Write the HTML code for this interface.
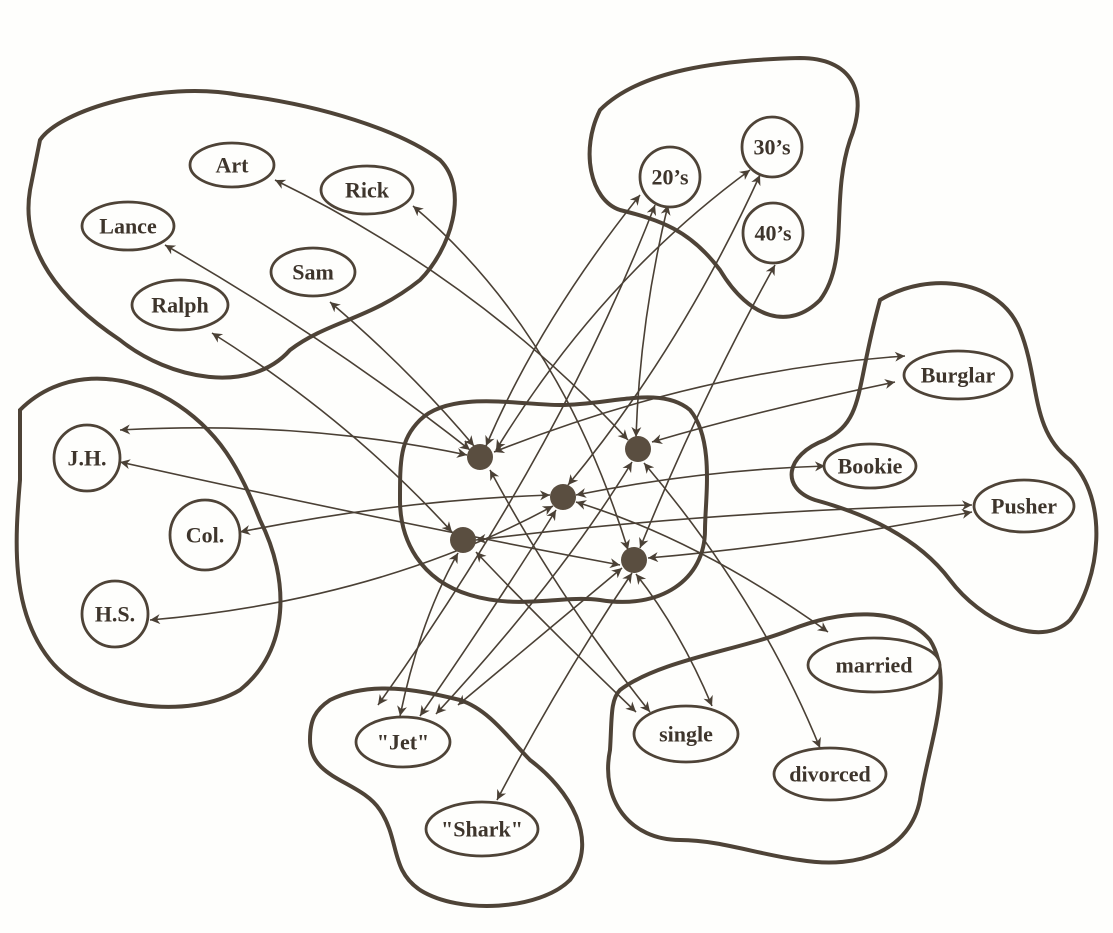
<!DOCTYPE html>
<html><head><meta charset="utf-8"><style>
html,body{margin:0;padding:0;background:#fefefc;}
svg{display:block}
text{font-family:"Liberation Serif",serif;font-weight:bold;font-size:22px;fill:#3e352c;text-anchor:middle;dominant-baseline:central}
</style></head><body>
<svg width="1113" height="933" viewBox="0 0 1113 933">
<defs>
<marker id="a" viewBox="0 0 10 10" refX="10" refY="5" markerWidth="14" markerHeight="10" orient="auto-start-reverse" markerUnits="userSpaceOnUse"><path d="M0,0 L10,5 L0,10 L3,5 Z" fill="#4a4035"/></marker>
</defs>
<g fill="none" stroke="#4e4337" stroke-width="4">
<path d="M40 140 C60 110 160 80 240 95 C320 105 400 130 440 160 C470 190 450 250 420 280 C370 320 330 320 290 350 C250 395 170 380 120 340 C60 300 20 250 30 190 Z"/>
<path d="M600 110 C640 70 720 60 800 58 C850 58 870 90 850 140 C830 200 850 260 820 300 C790 330 750 320 720 270 C690 230 660 220 620 210 C590 200 580 150 600 110 Z"/>
<path d="M20 410 C60 370 120 370 170 400 C220 430 240 470 260 520 C290 580 290 650 240 690 C190 720 90 710 50 660 C10 610 15 540 20 480 Z"/>
<path d="M880 300 C930 270 1000 280 1020 330 C1040 380 1030 430 1070 460 C1110 500 1100 580 1070 620 C1040 650 980 620 950 580 C920 540 870 515 815 500 C780 488 785 455 825 440 C865 420 855 390 880 300 Z"/>
<path d="M420 420 C450 390 520 405 560 405 C610 405 660 385 690 410 C715 440 705 500 705 530 C705 580 660 610 600 600 C560 595 520 610 470 595 C420 580 400 540 400 500 C400 460 400 440 420 420 Z"/>
<path d="M330 700 C370 680 420 690 460 700 C490 710 510 740 530 760 C570 790 600 840 570 880 C540 910 460 915 420 890 C390 870 400 840 380 810 C360 780 310 780 310 740 C310 720 315 710 330 700 Z"/>
<path d="M620 690 C660 660 740 650 790 630 C840 610 900 605 930 640 C955 680 930 740 920 800 C910 850 860 870 800 860 C760 855 720 840 680 840 C630 840 600 800 610 750 C612 720 610 700 620 690 Z"/>
</g>
<g fill="none" stroke="#4a4035" stroke-width="1.6" marker-start="url(#a)" marker-end="url(#a)">
<path d="M165 245 Q330 340 470 450"/>
<path d="M275 180 Q480 280 628 440"/>
<path d="M413 206 Q560 330 628 550"/>
<path d="M330 302 Q410 370 474 446"/>
<path d="M212 333 Q350 420 452 532"/>
<path d="M640 195 Q540 320 486 446"/>
<path d="M655 205 Q560 450 378 705"/>
<path d="M750 170 Q600 280 496 450"/>
<path d="M760 175 Q680 350 568 485"/>
<path d="M668 205 Q640 320 636 437"/>
<path d="M775 265 Q700 400 640 548"/>
<path d="M905 356 Q700 370 494 452"/>
<path d="M895 382 Q760 410 652 442"/>
<path d="M825 466 Q700 470 576 495"/>
<path d="M972 505 Q720 510 476 540"/>
<path d="M972 512 Q800 545 648 558"/>
<path d="M120 430 Q300 420 467 455"/>
<path d="M120 462 Q380 520 620 565"/>
<path d="M240 532 Q400 500 550 495"/>
<path d="M150 620 Q380 600 553 506"/>
<path d="M828 632 Q700 540 576 502"/>
<path d="M820 748 Q760 600 644 463"/>
<path d="M636 712 Q540 620 476 552"/>
<path d="M712 706 Q680 630 636 574"/>
<path d="M650 712 Q560 600 490 470"/>
<path d="M400 716 Q420 620 458 553"/>
<path d="M420 716 Q500 600 556 510"/>
<path d="M436 714 Q560 580 632 462"/>
<path d="M458 705 Q560 620 622 568"/>
<path d="M497 800 Q560 680 632 573"/>
</g>
<g fill="#5a4e40">
<circle cx="480" cy="457" r="13"/><circle cx="563" cy="497" r="13"/><circle cx="638" cy="449" r="13"/><circle cx="463" cy="540" r="13"/><circle cx="634" cy="560" r="13"/>
</g>
<g fill="#fefefc" stroke="#4e4337" stroke-width="2.8">
<ellipse cx="232" cy="165" rx="42" ry="22"/>
<ellipse cx="367" cy="190" rx="46" ry="24"/>
<ellipse cx="128" cy="226" rx="46" ry="24"/>
<ellipse cx="313" cy="272" rx="42" ry="24"/>
<ellipse cx="180" cy="305" rx="48" ry="25"/>
<circle cx="670" cy="177" r="30"/>
<circle cx="772" cy="147" r="30"/>
<circle cx="773" cy="233" r="30"/>
<ellipse cx="958" cy="375" rx="54" ry="24"/>
<ellipse cx="870" cy="466" rx="46" ry="22"/>
<ellipse cx="1024" cy="506" rx="50" ry="26"/>
<circle cx="87" cy="458" r="33"/>
<circle cx="205" cy="535" r="35"/>
<circle cx="115" cy="614" r="33"/>
<ellipse cx="874" cy="665" rx="66" ry="27"/>
<ellipse cx="830" cy="774" rx="56" ry="26"/>
<ellipse cx="686" cy="734" rx="52" ry="28"/>
<ellipse cx="403" cy="742" rx="47" ry="25"/>
<ellipse cx="482" cy="829" rx="56" ry="27"/>
</g>
<text x="232" y="165">Art</text>
<text x="367" y="190">Rick</text>
<text x="128" y="226">Lance</text>
<text x="313" y="272">Sam</text>
<text x="180" y="305">Ralph</text>
<text x="670" y="177">20’s</text>
<text x="772" y="147">30’s</text>
<text x="773" y="233">40’s</text>
<text x="958" y="375">Burglar</text>
<text x="870" y="466">Bookie</text>
<text x="1024" y="506">Pusher</text>
<text x="87" y="458">J.H.</text>
<text x="205" y="535">Col.</text>
<text x="115" y="614">H.S.</text>
<text x="874" y="665">married</text>
<text x="830" y="774">divorced</text>
<text x="686" y="734">single</text>
<text x="403" y="742">"Jet"</text>
<text x="482" y="829">"Shark"</text>
</svg>
</body></html>
